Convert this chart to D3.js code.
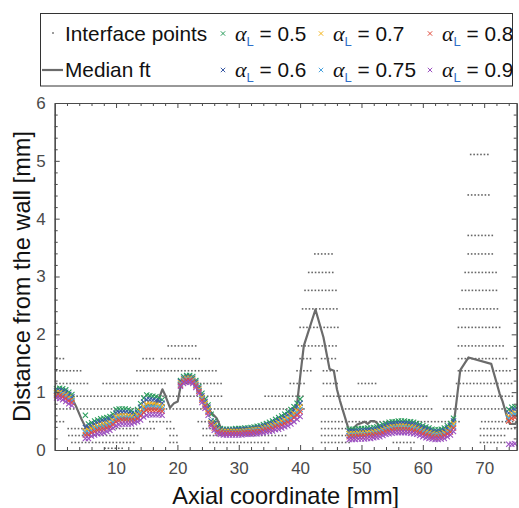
<!DOCTYPE html>
<html>
<head>
<meta charset="utf-8">
<script src="https://cdn.jsdelivr.net/npm/d3@7"></script>
<style>
  html, body { margin: 0; padding: 0; background: #fff; }
  svg { display: block; font-family: "Liberation Sans", Arial, sans-serif; }
</style>
</head>
<body>
<svg id="chart" width="519" height="508"></svg>
<script>
// ---- axis ticks ----
const xTicks = [10, 20, 30, 40, 50, 60, 70];
const yTicks = [0, 1, 2, 3, 4, 5, 6];

// ---- interface points: rows of grid points at fixed wall distances ----
const rowLevels = [0.03, 0.13, 0.25, 0.37, 0.49, 0.71, 0.93, 1.15, 1.37, 1.58, 1.80,
                   2.12, 2.44, 2.76, 3.07, 3.39, 3.71, 4.41, 5.11];
// occupied axial runs [from, to] (mm) for each row
const rowRuns = [
  [[8.2, 11.5]],
  [[2.8, 13.1], [18.8, 20.4], [25.3, 35.1], [43.5, 48.2], [55.2, 59.0], [69.4, 73.7]],
  [[2.3, 13.8], [18.8, 20.4], [24.2, 37.8], [43.5, 48.0], [69.4, 73.7]],
  [[2.2, 16.6], [18.3, 19.6], [24.2, 27.5], [43.5, 47.6], [69.4, 75.0]],
  [[0.3, 1.5], [15.5, 19.3], [23.4, 27.0], [43.5, 66.1], [69.6, 75.0]],
  [[0.3, 40.8], [43.5, 61.7], [63.4, 75.0]],
  [[0.3, 27.2], [34.3, 40.8], [43.8, 60.7], [63.4, 75.0]],
  [[0.3, 5.5], [7.9, 18.2], [20.4, 27.2], [38.4, 41.1], [43.8, 46.2], [49.5, 52.8], [65.5, 75.0]],
  [[0.3, 4.7], [13.4, 26.7], [39.5, 42.2], [43.8, 46.2], [65.8, 74.5]],
  [[0.3, 1.7], [14.4, 16.1], [17.4, 23.7], [40.0, 42.2], [43.5, 46.2], [65.8, 73.7]],
  [[18.5, 23.1], [39.7, 46.2], [65.8, 73.5]],
  [[40.0, 46.2], [65.8, 72.7]],
  [[40.4, 46.2], [66.0, 72.3]],
  [[40.8, 46.0], [66.4, 72.3]],
  [[41.4, 45.7], [66.9, 72.3]],
  [[42.4, 45.2], [67.4, 71.8]],
  [[67.4, 71.8]],
  [[67.4, 71.2]],
  [[67.8, 70.8]]
];
const gridPitch = 0.56; // axial spacing of the interface grid (mm)

// ---- median fit ----
const medianX = [0.3, 1.5, 2.8, 3.5, 4.3, 5.0, 6.0, 8.0, 9.5, 10.0, 12.5, 13.2, 14.0, 15.0, 16.5,
  17.2, 17.55, 18.0, 18.8, 19.45, 20.05, 20.7, 21.5, 22.5, 23.5, 24.5, 25.0, 25.5, 26.4, 27.3,
  30.0, 35.0, 38.0, 39.5, 40.1, 40.6, 41.2, 42.5, 43.8, 44.8, 45.5, 46.0, 46.5, 47.9, 48.5,
  49.3, 49.8, 50.5, 51.0, 51.5, 52.1, 52.6, 53.0, 55.0, 58.0, 60.5, 62.5, 64.5, 65.2, 66.1,
  67.45, 71.15, 72.5, 73.0, 73.7, 74.2, 75.05, 75.3];
const medianY = [0.98, 0.97, 0.90, 0.75, 0.55, 0.40, 0.38, 0.43, 0.48, 0.55, 0.55, 0.55, 0.65, 0.78, 0.78,
  0.95, 1.05, 0.95, 0.73, 0.81, 0.84, 1.20, 1.22, 1.22, 1.02, 0.78, 0.72, 0.65, 0.55, 0.33,
  0.32, 0.40, 0.52, 0.80, 1.35, 1.80, 2.00, 2.43, 1.95, 1.40, 1.37, 1.05, 0.85, 0.36, 0.36,
  0.44, 0.46, 0.49, 0.45, 0.50, 0.50, 0.46, 0.38, 0.42, 0.42, 0.34, 0.29, 0.38, 0.58, 1.38,
  1.60, 1.49, 0.98, 0.84, 0.58, 0.45, 0.45, 0.50];

// ---- thresholded interface positions for each alpha_L ----
const axialPos = [
  0.3, 0.8, 1.3, 1.8, 2.3, 2.8,
  5.0, 5.5, 6.0, 6.5, 7.0, 7.5, 8.0, 8.5, 9.0, 9.5, 10.0, 10.5, 11.0, 11.5, 12.0, 12.5, 13.0,
  13.5, 14.0, 14.5, 15.0, 15.5, 16.0, 16.5, 17.0, 17.5,
  20.5, 21.0, 21.5, 22.0, 22.5, 23.0, 23.5, 24.0, 24.5, 25.0, 25.5, 26.0, 26.5, 27.0, 27.5,
  28.0, 28.5, 29.0, 29.5, 30.0, 30.5, 31.0, 31.5, 32.0, 32.5, 33.0, 33.5, 34.0, 34.5, 35.0,
  35.5, 36.0, 36.5, 37.0, 37.5, 38.0, 38.5, 39.0, 39.5, 40.0,
  48.0, 48.5, 49.0, 49.5, 50.0, 50.5, 51.0, 51.5, 52.0, 52.5, 53.0, 53.5, 54.0, 54.5, 55.0,
  55.5, 56.0, 56.5, 57.0, 57.5, 58.0, 58.5, 59.0, 59.5, 60.0, 60.5, 61.0, 61.5, 62.0, 62.5,
  63.0, 63.5, 64.0, 64.5, 65.0,
  74.0, 74.5, 75.0];

const alpha05 = [
  1.06, 1.07, 1.06, 1.04, 1.00, 0.96,
  0.60, 0.45, 0.47, 0.50, 0.52, 0.54, 0.55, 0.56, 0.58, 0.62, 0.70, 0.71, 0.71, 0.71, 0.70, 0.68, 0.63,
  0.70, 0.80, 0.90, 0.95, 0.94, 0.93, 0.92, 0.90, 0.87,
  1.20, 1.27, 1.29, 1.29, 1.27, 1.20, 1.10, 0.98, 0.88, 0.78, 0.62, 0.50, 0.42, 0.37, 0.36,
  0.36, 0.36, 0.36, 0.37, 0.37, 0.37, 0.38, 0.38, 0.39, 0.40, 0.41, 0.42, 0.44, 0.46, 0.48,
  0.50, 0.53, 0.56, 0.59, 0.62, 0.66, 0.70, 0.75, 0.81, 0.88,
  0.36, 0.36, 0.36, 0.37, 0.37, 0.37, 0.38, 0.38, 0.39, 0.40, 0.42, 0.44, 0.46, 0.48, 0.49,
  0.49, 0.50, 0.50, 0.50, 0.49, 0.49, 0.48, 0.46, 0.44, 0.42, 0.40, 0.38, 0.36, 0.35, 0.35,
  0.36, 0.38, 0.42, 0.46, 0.55,
  0.70, 0.74, 0.75];
const alpha06 = [
  1.02, 1.03, 1.02, 1.00, 0.96, 0.92,
  0.39, 0.40, 0.42, 0.45, 0.47, 0.49, 0.50, 0.51, 0.53, 0.57, 0.64, 0.65, 0.65, 0.65, 0.64, 0.63, 0.60,
  0.65, 0.74, 0.83, 0.87, 0.87, 0.86, 0.85, 0.84, 0.81,
  1.18, 1.24, 1.26, 1.26, 1.24, 1.17, 1.07, 0.94, 0.84, 0.74, 0.50, 0.46, 0.39, 0.35, 0.34,
  0.34, 0.34, 0.34, 0.35, 0.35, 0.35, 0.36, 0.36, 0.36, 0.37, 0.38, 0.39, 0.41, 0.43, 0.44,
  0.46, 0.49, 0.52, 0.54, 0.57, 0.61, 0.65, 0.69, 0.75, 0.81,
  0.32, 0.32, 0.32, 0.33, 0.33, 0.33, 0.34, 0.34, 0.35, 0.36, 0.38, 0.40, 0.42, 0.44, 0.45,
  0.45, 0.46, 0.46, 0.46, 0.45, 0.45, 0.44, 0.42, 0.40, 0.38, 0.36, 0.34, 0.32, 0.31, 0.31,
  0.32, 0.34, 0.38, 0.42, 0.50,
  0.64, 0.68, 0.70];
const alpha07 = [
  0.99, 0.99, 0.97, 0.95, 0.91, 0.87,
  0.33, 0.34, 0.37, 0.39, 0.41, 0.43, 0.44, 0.45, 0.47, 0.51, 0.57, 0.59, 0.59, 0.59, 0.59, 0.58, 0.56,
  0.61, 0.67, 0.75, 0.79, 0.79, 0.79, 0.78, 0.77, 0.75,
  1.16, 1.22, 1.24, 1.24, 1.22, 1.15, 1.05, 0.91, 0.81, 0.70, 0.47, 0.43, 0.36, 0.33, 0.32,
  0.32, 0.32, 0.32, 0.32, 0.32, 0.32, 0.33, 0.33, 0.34, 0.35, 0.35, 0.36, 0.38, 0.39, 0.41,
  0.42, 0.45, 0.47, 0.50, 0.52, 0.55, 0.59, 0.63, 0.68, 0.75,
  0.28, 0.28, 0.28, 0.29, 0.29, 0.29, 0.30, 0.30, 0.31, 0.32, 0.33, 0.35, 0.37, 0.39, 0.40,
  0.40, 0.41, 0.41, 0.41, 0.40, 0.40, 0.39, 0.37, 0.35, 0.33, 0.31, 0.30, 0.28, 0.27, 0.27,
  0.28, 0.30, 0.33, 0.37, 0.45,
  0.58, 0.63, 0.64];
const alpha075 = [
  0.96, 0.96, 0.95, 0.92, 0.88, 0.85,
  0.30, 0.30, 0.33, 0.36, 0.38, 0.39, 0.40, 0.42, 0.44, 0.48, 0.53, 0.55, 0.55, 0.55, 0.55, 0.54, 0.53,
  0.57, 0.63, 0.70, 0.74, 0.74, 0.74, 0.73, 0.73, 0.71,
  1.14, 1.20, 1.22, 1.22, 1.20, 1.13, 1.03, 0.88, 0.78, 0.67, 0.46, 0.40, 0.34, 0.31, 0.30,
  0.30, 0.30, 0.30, 0.30, 0.30, 0.30, 0.31, 0.31, 0.32, 0.33, 0.33, 0.34, 0.36, 0.37, 0.38,
  0.40, 0.42, 0.44, 0.46, 0.49, 0.52, 0.55, 0.59, 0.64, 0.70,
  0.25, 0.25, 0.25, 0.26, 0.26, 0.26, 0.27, 0.27, 0.28, 0.29, 0.31, 0.33, 0.35, 0.36, 0.37,
  0.38, 0.38, 0.38, 0.38, 0.38, 0.37, 0.36, 0.35, 0.33, 0.31, 0.29, 0.27, 0.26, 0.25, 0.25,
  0.26, 0.27, 0.31, 0.34, 0.41,
  0.55, 0.60, 0.62];
const alpha08 = [
  0.94, 0.94, 0.92, 0.89, 0.85, 0.82,
  0.26, 0.26, 0.30, 0.32, 0.34, 0.35, 0.36, 0.38, 0.40, 0.44, 0.49, 0.51, 0.52, 0.52, 0.51, 0.51, 0.51,
  0.54, 0.59, 0.65, 0.69, 0.69, 0.69, 0.69, 0.68, 0.67,
  1.12, 1.18, 1.20, 1.20, 1.18, 1.11, 1.01, 0.86, 0.76, 0.65, 0.45, 0.38, 0.32, 0.30, 0.29,
  0.29, 0.29, 0.29, 0.29, 0.29, 0.29, 0.30, 0.30, 0.30, 0.31, 0.31, 0.32, 0.34, 0.35, 0.36,
  0.37, 0.40, 0.41, 0.43, 0.46, 0.48, 0.51, 0.56, 0.60, 0.66,
  0.23, 0.23, 0.23, 0.24, 0.24, 0.24, 0.25, 0.25, 0.26, 0.27, 0.28, 0.30, 0.32, 0.33, 0.34,
  0.35, 0.35, 0.35, 0.35, 0.35, 0.34, 0.33, 0.32, 0.30, 0.28, 0.26, 0.25, 0.23, 0.22, 0.22,
  0.23, 0.25, 0.28, 0.31, 0.38,
  0.50, 0.55, 0.56];
const alpha09 = [
  0.90, 0.89, 0.87, 0.84, 0.80, 0.77,
  0.20, 0.20, 0.24, 0.26, 0.28, 0.29, 0.30, 0.32, 0.34, 0.38, 0.42, 0.44, 0.45, 0.45, 0.45, 0.45, 0.47,
  0.49, 0.52, 0.57, 0.60, 0.61, 0.61, 0.61, 0.61, 0.60,
  1.10, 1.15, 1.17, 1.17, 1.15, 1.08, 0.98, 0.82, 0.72, 0.60, 0.42, 0.34, 0.29, 0.27, 0.26,
  0.26, 0.26, 0.26, 0.26, 0.26, 0.26, 0.27, 0.27, 0.27, 0.28, 0.28, 0.29, 0.30, 0.31, 0.32,
  0.33, 0.35, 0.36, 0.38, 0.40, 0.42, 0.45, 0.49, 0.53, 0.58,
  0.18, 0.18, 0.18, 0.19, 0.19, 0.19, 0.20, 0.20, 0.21, 0.22, 0.23, 0.25, 0.27, 0.28, 0.29,
  0.30, 0.30, 0.30, 0.30, 0.30, 0.29, 0.28, 0.27, 0.25, 0.23, 0.21, 0.20, 0.19, 0.18, 0.18,
  0.19, 0.20, 0.23, 0.26, 0.32,
  0.10, 0.10, 0.11];

const alphaLabels = ["0.5", "0.6", "0.7", "0.75", "0.8", "0.9"];
const alphaValues = [alpha05, alpha06, alpha07, alpha075, alpha08, alpha09];
const alphaColors = ["#2a9d5c", "#3b5ba5", "#f4b41a", "#4aa3df", "#e04b3c", "#9b4fc0"];

// ---- layout ----
const svg = d3.select("#chart");
const plot = { left: 54.7, right: 516.7, top: 103, bottom: 450 };
const axisColor = "#4a4a4a";

const x = d3.scaleLinear().domain([0, 75.3]).range([plot.left, plot.right]);
const y = d3.scaleLinear().domain([0, 6]).range([plot.bottom, plot.top]);

// interface points
const gridPoints = [];
rowLevels.forEach((lv, i) => {
  rowRuns[i].forEach(([a, b]) => {
    for (let p = a; p <= b + 1e-9; p += gridPitch) gridPoints.push([p, lv]);
  });
});
svg.append("g")
  .selectAll("rect")
  .data(gridPoints)
  .join("rect")
  .attr("x", d => x(d[0]) - 0.8)
  .attr("y", d => y(d[1]) - 0.8)
  .attr("width", 1.6)
  .attr("height", 1.6)
  .attr("fill", "#666");

// median fit
const medianPts = medianX.map((v, i) => [v, medianY[i]]);
svg.append("path")
  .datum(medianPts)
  .attr("fill", "none")
  .attr("stroke", "#6b6b6b")
  .attr("stroke-width", 2.2)
  .attr("stroke-linejoin", "round")
  .attr("d", d3.line().x(d => x(d[0])).y(d => y(d[1])));

// cross markers
const crossPath = s => `M${-s},${-s}L${s},${s}M${-s},${s}L${s},${-s}`;
alphaValues.forEach((vals, k) => {
  svg.append("g")
    .selectAll("path")
    .data(axialPos.map((p, i) => [p, vals[i]]))
    .join("path")
    .attr("transform", d => `translate(${x(d[0])},${y(d[1])})`)
    .attr("d", crossPath(2.6))
    .attr("stroke", alphaColors[k])
    .attr("stroke-width", 1.1)
    .attr("fill", "none");
});

// ---- axes (ticks pointing inward, box closed) ----
function styleAxis(g) {
  g.select(".domain").attr("stroke", axisColor).attr("stroke-width", 1.2);
  g.selectAll(".tick line").attr("stroke", axisColor).attr("stroke-width", 1);
  g.selectAll(".tick text").attr("fill", "#4a4a4a").attr("font-size", 17)
    .attr("font-family", "'Liberation Sans', Arial, sans-serif");
}
const xMinor = d3.range(2, 75.3, 2).filter(v => v % 10 !== 0);
const yMinor = d3.range(0.2, 6, 0.2).filter(v => Math.abs(v - Math.round(v)) > 1e-6);
const intFmt = d3.format("d");

// minor ticks
svg.append("g").attr("transform", `translate(0,${plot.bottom})`)
  .call(d3.axisBottom(x).tickValues(xMinor).tickSizeInner(-3).tickSizeOuter(0).tickFormat(""))
  .call(styleAxis);
svg.append("g").attr("transform", `translate(0,${plot.top})`)
  .call(d3.axisTop(x).tickValues(xMinor).tickSizeInner(-3).tickSizeOuter(0).tickFormat(""))
  .call(styleAxis);
svg.append("g").attr("transform", `translate(${plot.left},0)`)
  .call(d3.axisLeft(y).tickValues(yMinor).tickSizeInner(-3).tickSizeOuter(0).tickFormat(""))
  .call(styleAxis);
svg.append("g").attr("transform", `translate(${plot.right},0)`)
  .call(d3.axisRight(y).tickValues(yMinor).tickSizeInner(-3).tickSizeOuter(0).tickFormat(""))
  .call(styleAxis);

// major ticks and labels
svg.append("g").attr("transform", `translate(0,${plot.bottom})`)
  .call(d3.axisBottom(x).tickValues(xTicks).tickSizeInner(-5).tickSizeOuter(0).tickPadding(12).tickFormat(intFmt))
  .call(styleAxis);
svg.append("g").attr("transform", `translate(0,${plot.top})`)
  .call(d3.axisTop(x).tickValues(xTicks).tickSizeInner(-5).tickSizeOuter(0).tickFormat(""))
  .call(styleAxis);
svg.append("g").attr("transform", `translate(${plot.left},0)`)
  .call(d3.axisLeft(y).tickValues(yTicks).tickSizeInner(-5).tickSizeOuter(0).tickPadding(9).tickFormat(intFmt))
  .call(styleAxis);
svg.append("g").attr("transform", `translate(${plot.right},0)`)
  .call(d3.axisRight(y).tickValues(yTicks).tickSizeInner(-5).tickSizeOuter(0).tickFormat(""))
  .call(styleAxis);

// axis titles
svg.append("text")
  .attr("x", (plot.left + plot.right) / 2)
  .attr("y", 504)
  .attr("text-anchor", "middle")
  .attr("font-size", 23.6)
  .attr("fill", "#111")
  .text("Axial coordinate [mm]");
svg.append("text")
  .attr("transform", `translate(30,${(plot.top + plot.bottom) / 2}) rotate(-90)`)
  .attr("text-anchor", "middle")
  .attr("font-size", 23.6)
  .attr("fill", "#111")
  .text("Distance from the wall [mm]");

// ---- legend ----
const lg = svg.append("g");
lg.append("rect")
  .attr("x", 40.5).attr("y", 13.5).attr("width", 472).attr("height", 72.5)
  .attr("fill", "#fff").attr("stroke", "#333").attr("stroke-width", 1);

const rowBase = [40.5, 77];
lg.append("rect").attr("x", 52.2).attr("y", 32.2).attr("width", 1.6).attr("height", 1.6).attr("fill", "#666");
lg.append("text").attr("x", 65).attr("y", rowBase[0]).attr("font-size", 20.8).attr("fill", "#111")
  .text("Interface points");
lg.append("line").attr("x1", 42).attr("x2", 63).attr("y1", 70).attr("y2", 70)
  .attr("stroke", "#6b6b6b").attr("stroke-width", 2.2);
lg.append("text").attr("x", 65).attr("y", rowBase[1]).attr("font-size", 20.8).attr("fill", "#111")
  .text("Median ft");

// alpha entries: column-major, two rows
const colMarkX = [223, 321, 430];
alphaLabels.forEach((lab, k) => {
  const col = Math.floor(k / 2), row = k % 2;
  const mx = colMarkX[col];
  const by = rowBase[row];
  lg.append("path")
    .attr("transform", `translate(${mx},${by - 7})`)
    .attr("d", crossPath(2.2))
    .attr("stroke", alphaColors[k]).attr("stroke-width", 1).attr("fill", "none");
  const t = lg.append("text").attr("x", mx + 12).attr("y", by).attr("font-size", 20.8).attr("fill", "#111");
  t.append("tspan").attr("font-family", "'Liberation Serif', 'DejaVu Serif', serif")
    .attr("font-style", "italic").attr("font-size", 22).text("α");
  t.append("tspan").attr("font-size", 13).attr("dy", 5).attr("fill", "#2f6fc9").text("L");
  t.append("tspan").attr("dy", -5).text(" = " + lab);
});
</script>
</body>
</html>
